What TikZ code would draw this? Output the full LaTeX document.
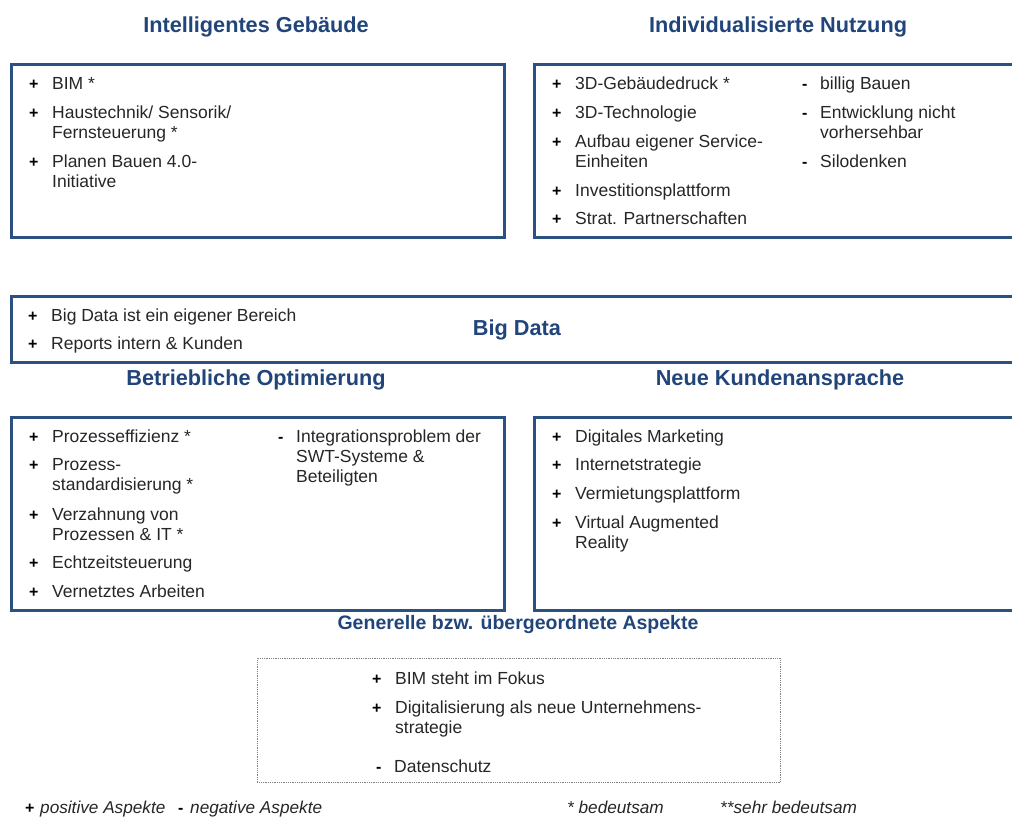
\documentclass[tikz,border=0pt]{standalone}
\usepackage{fontspec}
\setmainfont{Liberation Sans}
\definecolor{boxblue}{RGB}{44,80,127}
\definecolor{headblue}{RGB}{33,69,122}
\definecolor{txtgray}{RGB}{38,38,38}

% bullet + text, name / x / baseline / text
\newcommand{\pitem}[4]{%
  \node[bul] (#1b) at (#2,#3) {+};
  \node[itm,xshift=23pt] (#1) at (#2,#3) {\begin{tabular}[t]{@{}l@{}}#4\end{tabular}};}
\newcommand{\nitem}[4]{%
  \node[bul] (#1b) at (#2,#3) {-};
  \node[itm,xshift=18pt] (#1) at (#2,#3) {\begin{tabular}[t]{@{}l@{}}#4\end{tabular}};}

\begin{document}
\begin{tikzpicture}
  [x=1pt,y=-1pt,
   frame/.style={draw=boxblue,line width=3pt,anchor=north west,inner sep=0pt},
   head/.style={font=\bfseries\fontsize{21.7}{24}\selectfont,text=headblue,anchor=base,inner sep=0pt},
   itm/.style={font=\fontsize{17.5}{20}\selectfont,text=txtgray,anchor=base west,inner sep=0pt},
   bul/.style={font=\bfseries\fontsize{16}{18}\selectfont,anchor=base west,inner sep=0pt},
   legend/.style={font=\itshape\fontsize{17.2}{19}\selectfont,text=txtgray,anchor=base west,inner sep=0pt}]

  \useasboundingbox (0,0) rectangle (1012,817);

  % frames
  \node[frame,minimum width=493pt,minimum height=173pt] (gebaeude) at (10,63) {};
  \node[frame,minimum width=500pt,minimum height=173pt] (nutzung) at (533,63) {};
  \node[frame,minimum width=1020pt,minimum height=66pt] (bigdata) at (10,295) {};
  \node[frame,minimum width=493pt,minimum height=193pt] (betrieb) at (10,416) {};
  \node[frame,minimum width=500pt,minimum height=193pt] (kunden) at (533,416) {};
  \node[draw=gray,densely dotted,line width=0.8pt,anchor=north west,inner sep=0pt,
        minimum width=523pt,minimum height=124pt] (generell) at (257,658) {};

  % headings
  \node[head] (tgeb) at (256,32) {Intelligentes Gebäude};
  \node[head] (tnutz) at (778,32) {Individualisierte Nutzung};
  \node[head] (tbig) at (517,335) {Big Data};
  \node[head] (tbetr) at (256,385) {Betriebliche Optimierung};
  \node[head] (tkund) at (780,385) {Neue Kundenansprache};
  \node[head,font=\bfseries\fontsize{19.5}{22}\selectfont] (tgen) at (518,629)
    {Generelle bzw. übergeordnete Aspekte};

  % Intelligentes Gebaeude
  \pitem{g1}{29}{89}{BIM *}
  \pitem{g2}{29}{118}{Haustechnik/ Sensorik/\\Fernsteuerung *}
  \pitem{g3}{29}{167}{Planen Bauen 4.0-\\Initiative}

  % Individualisierte Nutzung
  \pitem{n1}{552}{89}{3D-Gebäudedruck *}
  \pitem{n2}{552}{118}{3D-Technologie}
  \pitem{n3}{552}{147}{Aufbau eigener Service-\\Einheiten}
  \pitem{n4}{552}{196}{Investitionsplattform}
  \pitem{n5}{552}{224}{Strat. Partnerschaften}
  \nitem{n6}{802}{89}{billig Bauen}
  \nitem{n7}{802}{118}{Entwicklung nicht\\vorhersehbar}
  \nitem{n8}{802}{167}{Silodenken}

  % Big Data
  \pitem{b1}{28}{321}{Big Data ist ein eigener Bereich}
  \pitem{b2}{28}{349}{Reports intern \& Kunden}

  % Betriebliche Optimierung
  \pitem{o1}{29}{442}{Prozesseffizienz *}
  \pitem{o2}{29}{470}{Prozess-\\standardisierung *}
  \pitem{o3}{29}{520}{Verzahnung von\\Prozessen \& IT *}
  \pitem{o4}{29}{568}{Echtzeitsteuerung}
  \pitem{o5}{29}{597}{Vernetztes Arbeiten}
  \nitem{o6}{278}{442}{Integrationsproblem der\\SWT-Systeme \&\\Beteiligten}

  % Neue Kundenansprache
  \pitem{k1}{552}{442}{Digitales Marketing}
  \pitem{k2}{552}{470}{Internetstrategie}
  \pitem{k3}{552}{499}{Vermietungsplattform}
  \pitem{k4}{552}{528}{Virtual Augmented\\Reality}

  % Generelle Aspekte
  \pitem{a1}{372}{684}{BIM steht im Fokus}
  \pitem{a2}{372}{713}{Digitalisierung als neue Unternehmens-\\strategie}
  \nitem{a3}{376}{772}{Datenschutz}

  % legend
  \node[bul] (lplus) at (25,813) {+};
  \node[legend,xshift=15pt] (lpos) at (25,813) {positive Aspekte};
  \node[bul] (lminus) at (178,813) {-};
  \node[legend,xshift=12pt] (lneg) at (178,813) {negative Aspekte};
  \node[legend] (lbed) at (567,813) {* bedeutsam};
  \node[legend] (lsehr) at (720,813) {**sehr bedeutsam};

\end{tikzpicture}
\end{document}
